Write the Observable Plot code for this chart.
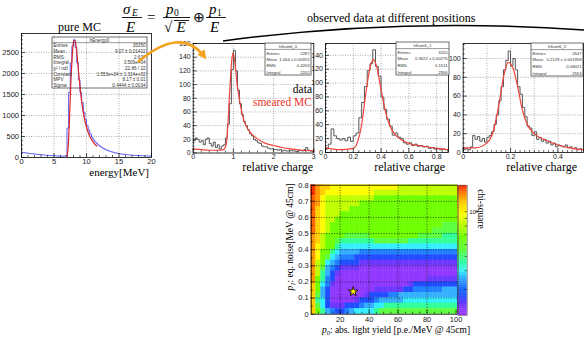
<!DOCTYPE html>
<html><head><meta charset="utf-8">
<script src="https://cdn.jsdelivr.net/npm/d3@7"></script>
<script src="https://cdn.jsdelivr.net/npm/@observablehq/plot@0.6"></script>
<style>
html,body{margin:0;padding:0;background:#fff;}
#root{position:relative;width:587px;height:340px;overflow:hidden;background:#fff;}
#root > svg{position:absolute;}
</style></head><body><div id="root"></div>
<script>
// ================= DATA =================
// Panel 1: pure MC energy spectrum (bins of 0.25 MeV from 0)
const mcBinWidth = 0.25;
const mcCounts = [125,118,112,106,100,95,90,85,80,76,72,68,64,60,57,54,51,48,45,43,41,39,37,35,33,32,31,45,
  700,1550,2250,2650,2800,2620,2250,1850,1550,1300,1080,900,760,650,560,480,420,370,330,295,265,240,215,195,178,
  162,148,135,124,114,105,97,90,84,78,73,68,64,60,57,54,51,49,47,45,43,41,40,38,37,36,35];
const mcFitE = [7.0,7.2,7.4,7.6,7.8,8.0,8.2,8.4,8.6,8.8,9.0,9.2,9.4,9.6,9.8,10.0,10.4,10.8,11.2,11.6];
const mcFitN = [20,300,1000,1800,2400,2750,2790,2650,2350,2000,1680,1400,1180,990,840,720,540,420,330,270];
const mcStats = [["Entries","35350"],["Mean","9.07 ± 0.01402"],["RMS","2.637"],["Integral","3.509e+04"],
  ["χ² / ndf","22.86 / 22"],["Constant","1.553e+04 ± 1.314e+02"],["MPV","8.17 ± 0.01"],["Sigma","0.4444 ± 0.0034"]];

// Panel 2: hSum6_0 (bins of 0.05)
const d0BinWidth = 0.05;
const d0Counts = [18,22,20,16,18,12,20,22,14,10,16,8,12,6,10,12, 22,42,72,122,150, 120,92,72,56,46,40,34,28,25,
  20,18,15,14,10,9,9,7,6,6, 5,5,4,5,3,4,3,3,4,3,3,2,3,4,3,5,8,4,3,2];
const d0SimX = [0,0.2,0.4,0.6,0.75,0.82,0.86,0.91,0.96,0.99,1.04,1.09,1.18,1.26,1.38,1.59,1.8,2.0,2.2,2.42,2.7,3.0];
const d0SimY = [6,5,4,4,5,12,38,92,136,146,131,102,68,48,33,21,14,11,8,6,4,3];
const d0Stats = [["Entries","2287"],["Mean","1.064 ± 0.00915"],["RMS","0.4203"],["Integral","2202"]];

// Panel 3: hSum6_1 (bins of 0.02)
const d1BinWidth = 0.02;
const d1Counts = [5,12,34,24,20,18,20,17,22,16,24,28,50,72,95,118,128,148,124,110,80,62,48,38,25,28,22,20,14,12,
  14,10,12,9,10,8,9,6,7,5,6,4,5,4];
const d1SimX = [0,0.1,0.2,0.23,0.26,0.29,0.32,0.345,0.37,0.4,0.43,0.46,0.5,0.55,0.6,0.7,0.8,0.885];
const d1SimY = [7,4,6,15,40,85,122,134,122,90,60,40,26,18,13,9,6,4];
const d1Stats = [["Entries","3220"],["Mean","0.3622 ± 0.00276"],["RMS","0.1511"],["Integral","2956"]];

// Panel 4: hSum6_2 (bins of 0.01)
const d2BinWidth = 0.01;
const d2Counts = [3,4,3,6,18,14,17,12,15,11,16,18,22,30,40,55,70,88,98,108,92,100,88,70,62,48,38,28,26,18,
  22,14,16,12,14,10,12,8,10,6,8,7,6,8,5,6,4,5,3,4,3];
const d2SimX = [0,0.05,0.1,0.13,0.15,0.17,0.19,0.21,0.23,0.25,0.27,0.3,0.35,0.4,0.45,0.508];
const d2SimY = [5,5,10,25,50,80,96,90,70,45,30,20,13,8,5,3];
const d2Stats = [["Entries","2647"],["Mean","0.2129 ± 0.001958"],["RMS","0.08021"],["Integral","2553"]];

// Chi-square scan: rows from p1 = 0.8 (top) down to 0; columns p0 from 0 to 101.
// Each character is a colour level (0..e).
const chi2Rows = [
 "ecbbaaaaaaaaaaaaaa999999999999",
 "ecbaaaaaaaaaa99999999999999999",
 "dca999999999988888888888888888",
 "dca999999988888888888888888888",
 "dba999998888888888888888888888",
 "dba999888888888888888888888888",
 "dba998888888888888888888888888",
 "dba988888888888888888888888777",
 "dba988888888888888888888877777",
 "cb9888877777888888888877777666",
 "cb9887666666677777776666666666",
 "ca9886555555555555555555555555",
 "ca8865444433333333333333333333",
 "ca8754333222222222222222222222",
 "c98543222211111111111111111111",
 "c97432111100000000000000000000",
 "c96421000000000000000000000000",
 "c86320000000000000000000111111",
 "b85310000000000000001222222222",
 "b84200000000011111122333333444",
 "b74200000001222233444444444444",
 "b65200000122234444455555555555",
 "b75211122234455666666666666666",
 "b86432234555567777777777777777"
];
const levelChi2 = [21.2,23.5,27.0,32.5,35.9,39.6,46.6,54.8,67.0,82.0,96.9,113.8,125.9,136.6,148.0];
const chi2Domain = [20,150];
const p0Max = 101, p1Max = 0.8;
const p0Ticks = [20,40,60,80,100];
const p1Ticks = [0,0.1,0.2,0.3,0.4,0.5,0.6,0.7,0.8];
const bestFit = [{p0:29, p1:0.14}];

// ================= HELPERS =================
const root = document.getElementById("root");
const SANS = "'Liberation Sans', Arial, sans-serif";
const SERIF = "'Liberation Serif', 'Times New Roman', serif";
const fmt = d => String(d);
const rangeStep = (a,b,s) => d3.range(Math.round((b-a)/s)+1).map(i => +(a+i*s).toFixed(6));

function histPanel(c) {
  const fw = c.width - c.mL - c.mR, fh = c.height - c.mT - c.mB;
  const pts = c.counts.map((v,i)=>({x:i*c.bw, y:v}));
  pts.push({x:c.counts.length*c.bw, y:c.counts[c.counts.length-1]});
  const cpts = c.cx.map((x,i)=>({x, y:c.cy[i]}));
  const grid = {stroke:"#8a8a8a", strokeOpacity:1, strokeDasharray:"1,1.5", strokeWidth:0.7};
  const xMaj = c.xTicks, yMaj = c.yTicks;
  const xMin = c.xMinor.filter(v => !xMaj.some(m => Math.abs(m-v)<1e-9));
  const yMin = c.yMinor.filter(v => !yMaj.some(m => Math.abs(m-v)<1e-9));
  const p = Plot.plot({
    width:c.width, height:c.height, marginLeft:c.mL, marginRight:c.mR, marginTop:c.mT, marginBottom:c.mB,
    style:{fontFamily:SANS, fontSize:c.fs+"px", color:"#1a1a1a", background:"transparent", overflow:"visible"},
    x:{domain:c.xDomain, label:null},
    y:{domain:c.yDomain, label:null},
    marks:[
      Plot.gridX(c.xGrid, grid),
      Plot.gridY(c.yGrid, grid),
      Plot.axisX(xMaj,{tickSize:0, tickPadding:1.5, tickFormat:fmt, label:null}),
      Plot.axisY(yMaj,{tickSize:0, tickPadding:2.5, tickFormat:fmt, label:null}),
      Plot.line(pts,{x:"x", y:"y", curve:"step-after", stroke:c.histColor, strokeWidth:c.histW || 1}),
      Plot.line(cpts,{x:"x", y:"y", curve:"monotone-x", stroke:c.curveColor, strokeWidth:1.2}),
      Plot.tickX(xMaj,{x:d=>d, insetTop:fh-4, stroke:"#000", strokeWidth:0.7}),
      Plot.tickX(xMin,{x:d=>d, insetTop:fh-2, stroke:"#000", strokeWidth:0.6}),
      Plot.tickY(yMaj,{y:d=>d, insetRight:fw-4, stroke:"#000", strokeWidth:0.7}),
      Plot.tickY(yMin,{y:d=>d, insetRight:fw-2, stroke:"#000", strokeWidth:0.6}),
      Plot.frame({stroke:"#000", strokeWidth:0.8})
    ]
  });
  p.style.left = c.left+"px"; p.style.top = c.top+"px";
  root.appendChild(p);
}

// ================= PANELS =================
histPanel({left:0, top:25, width:160, height:160, mL:21, mR:9, mT:8, mB:28, fs:7.5,
  xDomain:[0,20], yDomain:[0,2950], xTicks:[0,5,10,15,20], yTicks:[0,500,1000,1500,2000,2500],
  xMinor:rangeStep(0,20,1), yMinor:rangeStep(0,2900,100), xGrid:[5,10,15], yGrid:[500,1000,1500,2000,2500],
  counts:mcCounts, bw:mcBinWidth, histColor:"#5b5bf0", cx:mcFitE, cy:mcFitN, curveColor:"#e0262a"});

histPanel({left:170, top:35, width:150, height:135, mL:22.7, mR:6.7, mT:8, mB:17.5, fs:7,
  xDomain:[0,3], yDomain:[0,160], xTicks:[0,1,2,3], yTicks:rangeStep(0,160,20),
  xMinor:rangeStep(0,3,0.2), yMinor:rangeStep(0,160,5), xGrid:[1,2], yGrid:rangeStep(20,140,20),
  counts:d0Counts, bw:d0BinWidth, histColor:"#555", cx:d0SimX, cy:d0SimY, curveColor:"#f0443a"});

histPanel({left:305, top:35, width:150, height:135, mL:20, mR:7, mT:8, mB:18, fs:7,
  xDomain:[0,0.885], yDomain:[0,157], xTicks:[0,0.2,0.4,0.6,0.8], yTicks:rangeStep(0,140,20),
  xMinor:rangeStep(0,0.88,0.04), yMinor:rangeStep(0,155,5), xGrid:[0.2,0.4,0.6,0.8], yGrid:rangeStep(20,140,20),
  counts:d1Counts, bw:d1BinWidth, histColor:"#555", cx:d1SimX, cy:d1SimY, curveColor:"#f0443a"});

histPanel({left:440, top:35, width:147, height:135, mL:22.7, mR:4, mT:8, mB:18, fs:7,
  xDomain:[0,0.508], yDomain:[0,116], xTicks:[0,0.2,0.4], yTicks:rangeStep(0,100,20),
  xMinor:rangeStep(0,0.5,0.02), yMinor:rangeStep(0,115,5), xGrid:[0.1,0.2,0.3,0.4], yGrid:rangeStep(20,100,20),
  counts:d2Counts, bw:d2BinWidth, histColor:"#555", cx:d2SimX, cy:d2SimY, curveColor:"#f0443a"});

// ================= HEATMAP =================
const stopT = [0.00,0.05,0.10,0.15,0.24,0.29,0.34,0.42,0.50,0.60,0.70,0.78,0.86,0.91,0.95,1.0];
const stopC = ["#9a3aff","#8836ff","#5a38ff","#1f4dff","#2080ff","#33b0ff","#33f0ff","#33ff99","#5cff40","#70ff00",
  "#bfff00","#ffff00","#ffd200","#ff9f00","#ff6a00","#ff2a00"];
const paletteInterp = d3.scaleLinear().domain(stopT).range(stopC).interpolate(d3.interpolateRgb).clamp(true);
const colorScale = {type:"log", domain:chi2Domain, interpolate: t => paletteInterp(t)};

const nRows = chi2Rows.length, nCols = chi2Rows[0].length;
const cells = [];
chi2Rows.forEach((row, r) => {
  for (let c = 0; c < nCols; c++) {
    cells.push({x1:c*p0Max/nCols, x2:(c+1)*p0Max/nCols,
      y2:p1Max - r*p1Max/nRows, y1:p1Max - (r+1)*p1Max/nRows,
      chi2: levelChi2[parseInt(row[c],16)]});
  }
});
{
  const W = 180, Hh = 165, mL = 30.7, mR = 3, mT = 9.7, mB = 26.3;
  const fw = W-mL-mR, fh = Hh-mT-mB;
  const gridH = {stroke:"#000", strokeOpacity:0.85, strokeDasharray:"1,1.6", strokeWidth:0.8};
  const hm = Plot.plot({
    width:W, height:Hh, marginLeft:mL, marginRight:mR, marginTop:mT, marginBottom:mB,
    style:{fontFamily:SANS, fontSize:"7.5px", color:"#1a1a1a", background:"transparent", overflow:"visible"},
    x:{domain:[0,p0Max], label:null},
    y:{domain:[0,p1Max], label:null},
    color:colorScale,
    marks:[
      Plot.rect(cells,{x1:"x1", x2:"x2", y1:"y1", y2:"y2", fill:"chi2", stroke:"chi2", strokeWidth:0.4}),
      Plot.gridX([20,40,60,80], gridH),
      Plot.gridY([0.1,0.2,0.3,0.4,0.5,0.6,0.7], gridH),
      Plot.axisX(p0Ticks,{tickSize:0, tickPadding:2, tickFormat:fmt, label:null}),
      Plot.axisY(p1Ticks,{tickSize:0, tickPadding:2.5, tickFormat:fmt, label:null}),
      Plot.tickX(p0Ticks,{x:d=>d, insetTop:fh-4, stroke:"#000", strokeWidth:0.7}),
      Plot.tickX(rangeStep(5,95,5).filter(v=>v%20),{x:d=>d, insetTop:fh-2, stroke:"#000", strokeWidth:0.6}),
      Plot.tickY(p1Ticks,{y:d=>d, insetRight:fw-4, stroke:"#000", strokeWidth:0.7}),
      Plot.tickY(rangeStep(0.05,0.75,0.1),{y:d=>d, insetRight:fw-2, stroke:"#000", strokeWidth:0.6}),
      Plot.dot(bestFit,{x:"p0", y:"p1", symbol:"star", r:3, fill:"#ffee00", stroke:"#000", strokeWidth:0.8}),
      Plot.frame({stroke:"#000", strokeWidth:0.8})
    ]
  });
  hm.style.left = "280px"; hm.style.top = "175px";
  root.appendChild(hm);

  // colour bar
  const nSeg = 60, lr = chi2Domain[1]/chi2Domain[0];
  const segs = d3.range(nSeg).map(i => ({y1:chi2Domain[0]*Math.pow(lr,i/nSeg), y2:chi2Domain[0]*Math.pow(lr,(i+1)/nSeg)}));
  const bW = 40, bH = 165, bL = 7.7, bR = 23.3, bT = 10, bB = 25;
  const cb = Plot.plot({
    width:bW, height:bH, marginLeft:bL, marginRight:bR, marginTop:bT, marginBottom:bB,
    style:{fontFamily:SANS, fontSize:"6px", color:"#1a1a1a", background:"transparent", overflow:"visible"},
    x:{domain:[0,1], axis:null},
    y:{type:"log", domain:chi2Domain, label:null},
    color:colorScale,
    marks:[
      Plot.rect(segs,{x1:0, x2:1, y1:"y1", y2:"y2", fill:d=>Math.sqrt(d.y1*d.y2), stroke:d=>Math.sqrt(d.y1*d.y2), strokeWidth:0.3}),
      Plot.axisY([100],{anchor:"right", tickSize:0, tickPadding:2, tickFormat:()=>"10²", label:null}),
      Plot.tickY([30,40,50,60,70,80,90,100],{y:d=>d, insetLeft:(bW-bL-bR)-2, stroke:"#000", strokeWidth:0.6}),
      Plot.frame({stroke:"#555", strokeWidth:0.6})
    ]
  });
  cb.style.left = "450px"; cb.style.top = "175px";
  root.appendChild(cb);
}

// ================= ANNOTATIONS (overlay) =================
const ov = d3.create("svg").attr("width",587).attr("height",340)
  .style("position","absolute").style("left","0px").style("top","0px");
function txt(g, x, y, s, o={}) {
  return g.append("text").attr("x",x).attr("y",y).text(s)
    .attr("font-family", o.family || SERIF).attr("font-size", o.size || 12)
    .attr("font-style", o.italic ? "italic" : "normal")
    .attr("text-anchor", o.anchor || "start").attr("fill", o.fill || "#000");
}
function statsBox(x, y, w, h, title, rows, fs, fill) {
  const g = ov.append("g");
  const rh = h/(rows.length+1);
  g.append("rect").attr("x",x).attr("y",y).attr("width",w).attr("height",h)
    .attr("fill",fill).attr("stroke","#333").attr("stroke-width",0.7);
  g.append("line").attr("x1",x).attr("x2",x+w).attr("y1",y+rh).attr("y2",y+rh).attr("stroke","#333").attr("stroke-width",0.5);
  txt(g, x+w/2, y+rh*0.8, title, {family:SANS, size:fs, anchor:"middle", fill:"#333"});
  rows.forEach((r,i) => {
    txt(g, x+1.5, y+rh*(i+1)+rh*0.8, r[0], {family:SANS, size:fs, fill:"#333"});
    txt(g, x+w-1.5, y+rh*(i+1)+rh*0.8, r[1], {family:SANS, size:fs, anchor:"end", fill:"#333"});
  });
}
statsBox(52, 37, 95, 51, "hEnergy0", mcStats, 4.6, "none");
statsBox(265, 43, 46, 32, "hSum6_0", d0Stats, 4.2, "#fff");
statsBox(396, 42, 53, 33, "hSum6_1", d1Stats, 4.2, "#fff");
statsBox(531, 43, 52, 33, "hSum6_2", d2Stats, 4.2, "#fff");

// titles and axis titles
txt(ov, 58, 31, "pure MC", {size:12});
txt(ov, 149, 176, "energy[MeV]", {size:11, anchor:"end"});
txt(ov, 313, 170.5, "relative charge", {size:12, anchor:"end"});
txt(ov, 445, 170.5, "relative charge", {size:12, anchor:"end"});
txt(ov, 577, 170.5, "relative charge", {size:12, anchor:"end"});
txt(ov, 312, 93, "data", {size:11.5, anchor:"end"});
txt(ov, 312, 106, "smeared MC", {size:11.5, anchor:"end", fill:"#ee3328"});
txt(ov, 307, 22, "observed data at different positions", {size:12});

// formula
{
  const g = ov.append("g").attr("transform","translate(0,4.5)");
  const I = {size:15, italic:true};
  const bar = (x1,x2,y) => g.append("line").attr("x1",x1).attr("x2",x2).attr("y1",y).attr("y2",y).attr("stroke","#000").attr("stroke-width",0.9);
  txt(g, 123, 9, "σ", I); txt(g, 132, 11, "E", {size:9.5, italic:true});
  bar(122, 142, 13); txt(g, 126, 27, "E", I);
  txt(g, 147, 17.5, "=", {size:15});
  txt(g, 166, 9, "p", I); txt(g, 174, 11.5, "0", {size:9.5});
  bar(163, 190, 13);
  txt(g, 164, 27.5, "√", {size:15});
  g.append("line").attr("x1",174).attr("x2",189).attr("y1",16).attr("y2",16).attr("stroke","#000").attr("stroke-width",0.9);
  txt(g, 176.5, 27.5, "E", I);
  txt(g, 192.5, 17.5, "⊕", {size:14});
  txt(g, 209, 9, "p", I); txt(g, 217, 11.5, "1", {size:9.5});
  bar(206, 226, 13); txt(g, 210, 27, "E", I);
}

// arrows / brace curve
ov.append("path").attr("d","M138,62 Q180,26 204,56").attr("fill","none").attr("stroke","#f5a21f").attr("stroke-width",2.6);
ov.append("path").attr("d","M206.5,59.5 L197.5,54.8 L204.5,49.2 Z").attr("fill","#f5a21f");
ov.append("path").attr("d","M223,41 Q400,17 584,30").attr("fill","none").attr("stroke","#000").attr("stroke-width",1.5);

// heatmap axis titles
{
  const g = ov.append("g").attr("transform","translate(293,237) rotate(-90)");
  const t = g.append("text").attr("text-anchor","middle").attr("font-family",SERIF).attr("font-size",9.5);
  t.append("tspan").attr("font-style","italic").text("p");
  t.append("tspan").attr("font-style","italic").attr("font-size",6.5).attr("dy",2).text("1");
  t.append("tspan").attr("dy",-2).text(": eq. noise[MeV @ 45cm]");
  const t2 = ov.append("text").attr("x",396).attr("y",333).attr("text-anchor","middle").attr("font-family",SERIF).attr("font-size",9.5);
  t2.append("tspan").attr("font-style","italic").text("p");
  t2.append("tspan").attr("font-style","italic").attr("font-size",6.5).attr("dy",2).text("0");
  t2.append("tspan").attr("dy",-2).text(": abs. light yield [p.e./MeV @ 45cm]");
  ov.append("text").attr("transform","translate(478,209) rotate(90)").attr("text-anchor","middle")
    .attr("font-family",SERIF).attr("font-size",9.5).text("chi-square");
}
root.appendChild(ov.node());
</script></body></html>
